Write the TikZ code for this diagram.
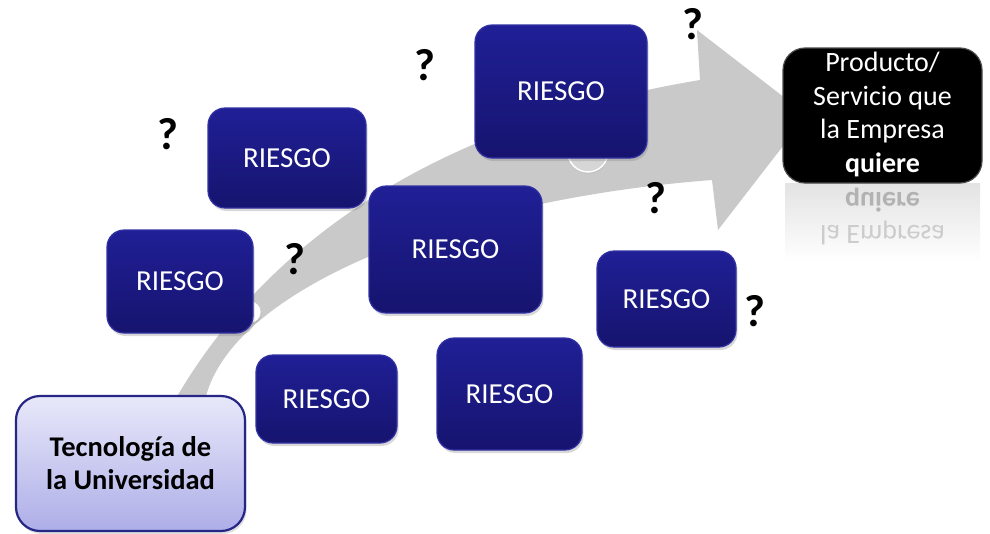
\documentclass[tikz,border=0pt]{standalone}
\usepackage{fontspec}
\setmainfont{Carlito}
\usetikzlibrary{shadows}
\definecolor{rtop}{RGB}{32,31,150}
\definecolor{rbot}{RGB}{22,20,110}
\definecolor{rborder}{RGB}{50,50,165}
\definecolor{arrowgray}{RGB}{201,201,201}
\definecolor{ttop}{RGB}{232,232,250}
\definecolor{tbot}{RGB}{174,174,232}
\definecolor{tborder}{RGB}{38,38,135}
\definecolor{bumpgray}{RGB}{214,214,214}
\begin{document}
\begin{tikzpicture}[x=1pt,y=-1pt,
  riesgo/.style={rounded corners=17pt, top color=rtop, bottom color=rbot,
    draw=rborder, line width=1.2pt, text=white, inner sep=0pt,
    font=\fontsize{29}{33}\selectfont,
    drop shadow={shadow xshift=1.5pt, shadow yshift=-3pt, opacity=0.3}},
  tecbox/.style={rounded corners=24pt, top color=ttop, bottom color=tbot,
    draw=tborder, line width=2.2pt, inner sep=0pt, align=center,
    font=\fontsize{28.5}{33}\selectfont\bfseries,
    drop shadow={shadow xshift=1.5pt, shadow yshift=-3pt, opacity=0.25}},
  blkbox/.style={rounded corners=22pt, fill=black, draw=black!70,
    line width=1.2pt, inner sep=0pt},
  blktext/.style={text=white, inner sep=0pt, font=\fontsize{28}{33}\selectfont},
  qmark/.style={inner sep=0pt, font=\fontsize{45}{45}\selectfont\bfseries},
]
\fill[white] (0,0) rectangle (990,533);
\useasboundingbox (0,0) rectangle (990,533);

% curved gray arrow
\fill[arrowgray] (175,400) .. controls (250,270) and (400,130) .. (700,80)
  -- (697,30) -- (807,115) -- (718,230) -- (712,180)
  .. controls (450,200) and (230,290) .. (205,400) -- cycle;

% small bumps
\node[circle, minimum size=40pt, fill=bumpgray, draw=white, line width=1.5pt,
  drop shadow={shadow xshift=0.5pt, shadow yshift=-1.5pt, opacity=0.25}] (bump1) at (588,152) {};
\node[circle, minimum size=22pt, fill=white, draw=gray!40, line width=0.6pt,
  drop shadow={shadow xshift=0.5pt, shadow yshift=-1.5pt, opacity=0.25}] (bump2) at (250,312) {};

% risk boxes
\node[riesgo, minimum width=158pt, minimum height=100pt] (r1) at (287,158) {RIESGO};
\node[riesgo, minimum width=172pt, minimum height=133pt] (r2) at (561,91.5) {\raisebox{-1.5pt}{RIESGO}};
\node[riesgo, minimum width=173pt, minimum height=127pt] (r3) at (455.5,249.5) {RIESGO};
\node[riesgo, minimum width=146pt, minimum height=103pt] (r4) at (180,281.5) {RIESGO};
\node[riesgo, minimum width=139pt, minimum height=96pt] (r5) at (666.5,299) {RIESGO};
\node[riesgo, minimum width=141pt, minimum height=88pt] (r6) at (326.5,399) {RIESGO};
\node[riesgo, minimum width=145pt, minimum height=112pt] (r7) at (509.5,394) {RIESGO};

% question marks
\node[qmark] (q1) at (168,134) {?};
\node[qmark] (q2) at (425,65) {?};
\node[qmark] (q3) at (693,24) {?};
\node[qmark] (q4) at (295,259) {?};
\node[qmark] (q5) at (656,198) {?};
\node[qmark] (q6) at (755,311) {?};

% start box
\node[tecbox, minimum width=229pt, minimum height=135pt] (tec) at (130.5,463.5)
  {Tecnología de\\la Universidad};

% reflection of the goal box
\shade[top color=gray!22, bottom color=white, draw=none]
  (785,183) rectangle (980,262);
\begin{scope}[shift={(0,364)}, yscale=-1, transform shape]
  \node[inner sep=0pt, anchor=base, text=gray!40, font=\fontsize{28}{33}\selectfont] (rf1) at (882.5,138.5) {la Empresa};
  \node[inner sep=0pt, anchor=base, text=gray!60, font=\fontsize{28}{33}\selectfont\bfseries] (rf2) at (882.5,172) {quiere};
\end{scope}

% goal box
\node[blkbox, minimum width=199pt, minimum height=135pt] (goal) at (882.5,115.5) {};
\node[blktext, anchor=base] (g1) at (882.5,71.5) {Producto/};
\node[blktext, anchor=base] (g2) at (882.5,105) {Servicio que};
\node[blktext, anchor=base] (g3) at (882.5,138.5) {la Empresa};
\node[blktext, anchor=base, font=\fontsize{28}{33}\selectfont\bfseries] (g4) at (882.5,172) {quiere};
\end{tikzpicture}
\end{document}
